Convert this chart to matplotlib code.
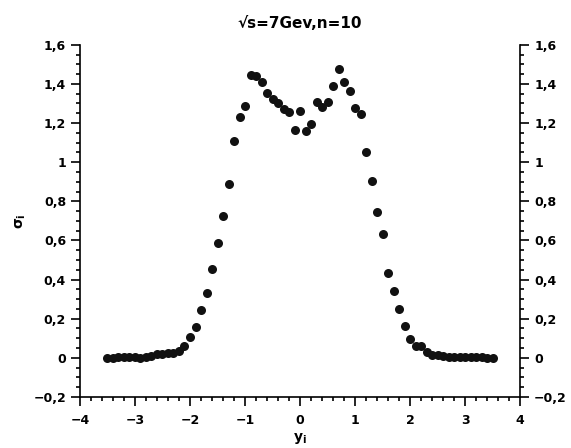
import matplotlib
matplotlib.use('Agg')
import matplotlib.pyplot as plt
from matplotlib.ticker import MultipleLocator, FuncFormatter
import numpy as np

# Datos (yi, sigma_i)
yi = [-3.5, -3.4, -3.3, -3.2, -3.1, -3.0, -2.9, -2.8, -2.7, -2.6,
      -2.5, -2.4, -2.3, -2.2, -2.1, -2.0, -1.9, -1.8, -1.7, -1.6,
      -1.5, -1.4, -1.3, -1.2, -1.1, -1.0, -0.9, -0.8, -0.7, -0.6,
      -0.5, -0.4, -0.3, -0.2, -0.1, 0.0, 0.1, 0.2, 0.3, 0.4,
      0.5, 0.6, 0.7, 0.8, 0.9, 1.0, 1.1, 1.2, 1.3, 1.4,
      1.5, 1.6, 1.7, 1.8, 1.9, 2.0, 2.1, 2.2, 2.3, 2.4,
      2.5, 2.6, 2.7, 2.8, 2.9, 3.0, 3.1, 3.2, 3.3, 3.4, 3.5]
sigma = [0.0, 0.0, 0.003, 0.004, 0.002, 0.003, 0.001, 0.005, 0.010, 0.017,
         0.021, 0.022, 0.026, 0.033, 0.061, 0.108, 0.160, 0.245, 0.330, 0.455,
         0.589, 0.725, 0.889, 1.109, 1.233, 1.288, 1.446, 1.438, 1.412, 1.356,
         1.322, 1.301, 1.273, 1.254, 1.165, 1.261, 1.160, 1.196, 1.307, 1.281,
         1.310, 1.390, 1.475, 1.409, 1.366, 1.279, 1.247, 1.051, 0.904, 0.746,
         0.635, 0.436, 0.342, 0.252, 0.165, 0.095, 0.061, 0.060, 0.028, 0.012,
         0.012, 0.009, 0.006, 0.004, 0.003, 0.002, 0.004, 0.003, 0.002, 0.001, 0.0]

def coma(v, pos):
    txt = ('%g' % round(v, 3)).replace('.', ',')
    if txt == '-0':
        txt = '0'
    return txt.replace('-', '\u2212')

fig = plt.figure(figsize=(5.71, 4.48), dpi=100)
ax = fig.add_axes([0.140, 0.114, 0.771, 0.786])

ax.plot(yi, sigma, 'o', color='#111111', markersize=6.5, markeredgewidth=0)

ax.set_xlim(-4, 4)
ax.set_ylim(-0.2, 1.6)
ax.xaxis.set_major_locator(MultipleLocator(1))
ax.xaxis.set_minor_locator(MultipleLocator(0.2))
ax.yaxis.set_major_locator(MultipleLocator(0.2))
ax.yaxis.set_minor_locator(MultipleLocator(0.05))
ax.xaxis.set_major_formatter(FuncFormatter(coma))
ax.yaxis.set_major_formatter(FuncFormatter(coma))

ax.spines['top'].set_visible(False)
for s in ['left', 'right', 'bottom']:
    ax.spines[s].set_linewidth(1.2)

ax.tick_params(which='both', direction='out', top=False, right=True,
               labelright=True, width=1.2, labelsize=9)
ax.tick_params(which='major', length=6.5)
ax.tick_params(which='minor', length=3)
ax.tick_params(axis='x', which='major', pad=6)
for lab in ax.get_xticklabels() + ax.get_yticklabels():
    lab.set_fontweight('bold')

ax.set_title('\u221as=7Gev,n=10', fontsize=11, fontweight='bold', pad=12)
ax.set_xlabel('y$_\\mathbf{i}$', fontsize=10, fontweight='bold', labelpad=3)
ax.set_ylabel('\u03c3$_\\mathbf{i}$', fontsize=10, fontweight='bold', labelpad=4)

fig.savefig('out.png', dpi=100)
